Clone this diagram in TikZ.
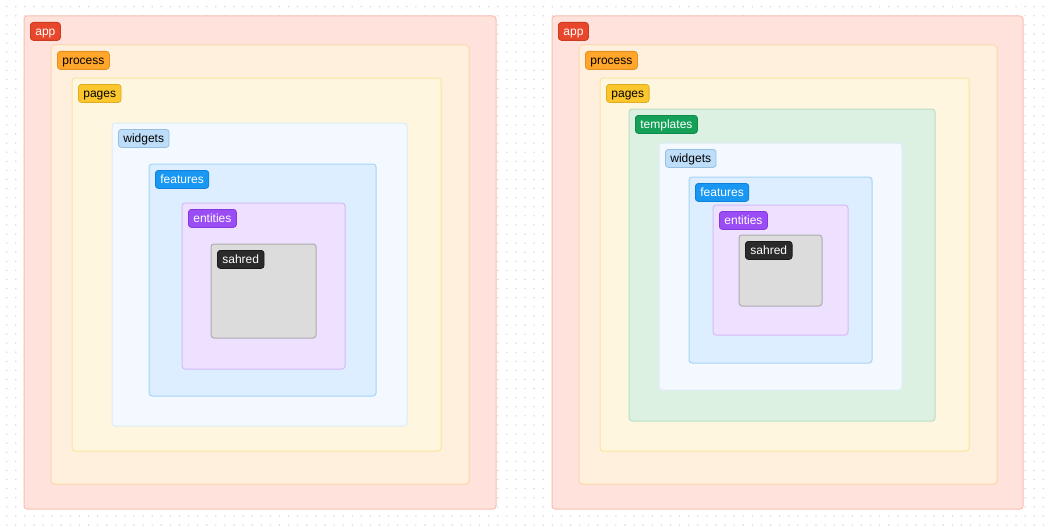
\documentclass[tikz,border=0pt]{standalone}
\usepackage{fontspec}
\setmainfont{Liberation Sans}
\definecolor{dotc}{HTML}{D6D6D6}
\definecolor{appF}{HTML}{FFE2DC}\definecolor{appB}{HTML}{F8BFB2}
\definecolor{appL}{HTML}{E8472B}\definecolor{appD}{HTML}{C93C20}
\definecolor{procF}{HTML}{FFF0DD}\definecolor{procB}{HTML}{FDD8A8}
\definecolor{procL}{HTML}{FFA62B}\definecolor{procD}{HTML}{E39222}
\definecolor{pageF}{HTML}{FFF6DF}\definecolor{pageB}{HTML}{FDE3A0}
\definecolor{pageL}{HTML}{FCC72C}\definecolor{pageD}{HTML}{DDAE22}
\definecolor{tplF}{HTML}{DDF1E3}\definecolor{tplB}{HTML}{B9DDC4}
\definecolor{tplL}{HTML}{15A058}\definecolor{tplD}{HTML}{0F8A48}
\definecolor{widF}{HTML}{F4F9FF}\definecolor{widB}{HTML}{DDEBF8}
\definecolor{widL}{HTML}{BEDDF8}\definecolor{widD}{HTML}{95C0E2}
\definecolor{featF}{HTML}{DCEEFF}\definecolor{featB}{HTML}{A6D4F6}
\definecolor{featL}{HTML}{1898F2}\definecolor{featD}{HTML}{1180D8}
\definecolor{entF}{HTML}{EEE1FF}\definecolor{entB}{HTML}{D6BAF6}
\definecolor{entL}{HTML}{9A4DF4}\definecolor{entD}{HTML}{8538DE}
\definecolor{shF}{HTML}{DCDCDC}\definecolor{shB}{HTML}{ACACAC}
\definecolor{shL}{HTML}{2B2B2B}\definecolor{shD}{HTML}{1A1A1A}
\tikzset{
  layerbox/.style={line width=1pt, rounded corners=3pt},
  tag/.style={rounded corners=3pt, line width=0.8pt, minimum height=18pt,
    inner xsep=5pt, inner ysep=0pt, text height=10pt, text depth=1pt,
    font=\fontsize{12}{13}\selectfont, anchor=north west},
  appbox/.style={layerbox, fill=appF, draw=appB},
  apptag/.style={tag, fill=appL, draw=appD, text=white},
  procbox/.style={layerbox, fill=procF, draw=procB},
  proctag/.style={tag, fill=procL, draw=procD, text=black},
  pagebox/.style={layerbox, fill=pageF, draw=pageB},
  pagetag/.style={tag, fill=pageL, draw=pageD, text=black},
  tplbox/.style={layerbox, fill=tplF, draw=tplB},
  tpltag/.style={tag, fill=tplL, draw=tplD, text=white},
  widbox/.style={layerbox, fill=widF, draw=widB},
  widtag/.style={tag, fill=widL, draw=widD, text=black},
  featbox/.style={layerbox, fill=featF, draw=featB},
  feattag/.style={tag, fill=featL, draw=featD, text=white},
  entbox/.style={layerbox, fill=entF, draw=entB},
  enttag/.style={tag, fill=entL, draw=entD, text=white},
  shbox/.style={layerbox, fill=shF, draw=shB},
  shtag/.style={tag, fill=shL, draw=shD, text=white},
}
% #1 node name, #2 style prefix, #3 x1, #4 y1, #5 x2, #6 y2, #7 label
\newcommand\layerat[7]{%
  \draw[#2box] (#3,#4) rectangle (#5,#6);
  \node[#2tag] (#1) at (#3+6,#4+6) {#7};}
\begin{document}
\begin{tikzpicture}[x=1pt,y=-1pt]
\useasboundingbox (0,0) rectangle (1049,527);
\fill[white] (0,0) rectangle (1049,527);
\foreach \i in {0,...,114}{
  \foreach \j in {0,...,57}{
    \fill[dotc] (6.7+9.093*\i, 6.7+9.093*\j) circle (0.8);
  }
}
% left stack
\layerat{appL}{app}{24}{16}{496}{509}{app}
\layerat{procL}{proc}{51}{45}{469}{484}{process}
\layerat{pageL}{page}{72}{78}{441}{451}{pages}
\layerat{widL}{wid}{112}{123}{407}{426}{widgets}
\layerat{featL}{feat}{149}{164}{376}{396}{features}
\layerat{entL}{ent}{182}{203}{345}{369}{entities}
\layerat{shL}{sh}{211}{244}{316}{338}{sahred}
% right stack
\layerat{appR}{app}{552}{16}{1023}{509}{app}
\layerat{procR}{proc}{579}{45}{997}{484}{process}
\layerat{pageR}{page}{600}{78}{969}{451}{pages}
\layerat{tplR}{tpl}{629}{109}{935}{421}{templates}
\layerat{widR}{wid}{659}{143}{902}{390}{widgets}
\layerat{featR}{feat}{689}{177}{872}{363}{features}
\layerat{entR}{ent}{713}{205}{848}{335}{entities}
\layerat{shR}{sh}{739}{235}{822}{306}{sahred}
\end{tikzpicture}
\end{document}
